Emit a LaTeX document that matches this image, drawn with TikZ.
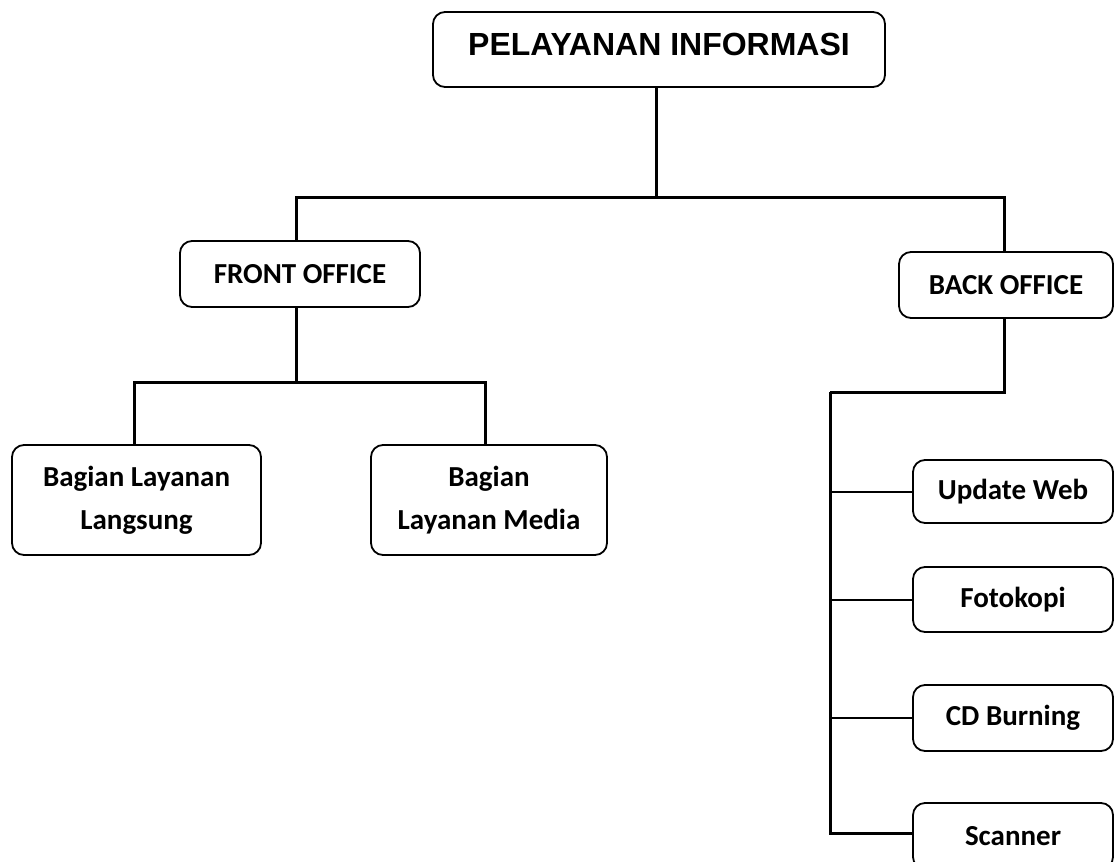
\documentclass[tikz,border=0pt]{standalone}
\usepackage{fontspec}
\setmainfont{Carlito}
\newfontfamily\arialfont{Liberation Sans}
\begin{document}
\begin{tikzpicture}[x=1pt,y=-1pt,
  box/.style={draw,line width=1.8pt,rounded corners=12pt,inner sep=0pt,align=center,font=\bfseries\fontsize{29}{43}\selectfont},
  thick line/.style={line width=3pt},
  thin line/.style={line width=2pt}]
\useasboundingbox (0,0) rectangle (1115,861);
\clip (0,0) rectangle (1115,861);
\node[box,minimum width=452pt,minimum height=75pt,text height=22pt,text depth=10pt,font=\arialfont\bfseries\fontsize{32}{38}\selectfont] (title) at (659,49.5) {PELAYANAN INFORMASI};
\node[box,minimum width=240pt,minimum height=66pt] (front) at (300,274) {FRONT OFFICE};
\node[box,minimum width=214pt,minimum height=66pt] (back) at (1006,285) {BACK OFFICE};
\node[box,minimum width=249pt,minimum height=110pt] (bll) at (136.5,500) {Bagian Layanan\\Langsung};
\node[box,minimum width=236pt,minimum height=110pt] (blm) at (489,500) {Bagian\\Layanan Media};
\node[box,minimum width=200pt,minimum height=63pt] (upd) at (1013,491.5) {Update Web};
\node[box,minimum width=200pt,minimum height=65pt] (foto) at (1013,599.5) {Fotokopi};
\node[box,minimum width=200pt,minimum height=66pt] (cd) at (1013,718) {CD Burning};
\node[box,minimum width=200pt,minimum height=66pt] (scan) at (1013,836) {Scanner};
\coordinate (hb) at (656,197);
\coordinate (fb) at (296,382);
\coordinate (fbL) at (134,382);
\coordinate (fbR) at (485,382);
\coordinate (bbx) at (1004,392);
\coordinate (bb) at (830,392);
\draw[thick line] (hb |- title.south) -- (hb);
\draw[thick line] (front.north -| fb) |- (hb);
\draw[thick line] (back.north -| bbx) |- (hb);
\draw[thick line] (front.south -| fb) -- (fb);
\draw[thick line] (fbL |- bll.north) -- (fbL) -- (fbR) -- (fbR |- blm.north);
\draw[thick line] (back.south -| bbx) -- (bbx) -- (bb);
\draw[thick line] (bb) -- (bb |- 0,833) -- (scan.west |- 0,833);
\draw[thin line] (bb |- upd.west) -- (upd.west);
\draw[thin line] (bb |- foto.west) -- (foto.west);
\draw[thin line] (bb |- cd.west) -- (cd.west);
\end{tikzpicture}
\end{document}
